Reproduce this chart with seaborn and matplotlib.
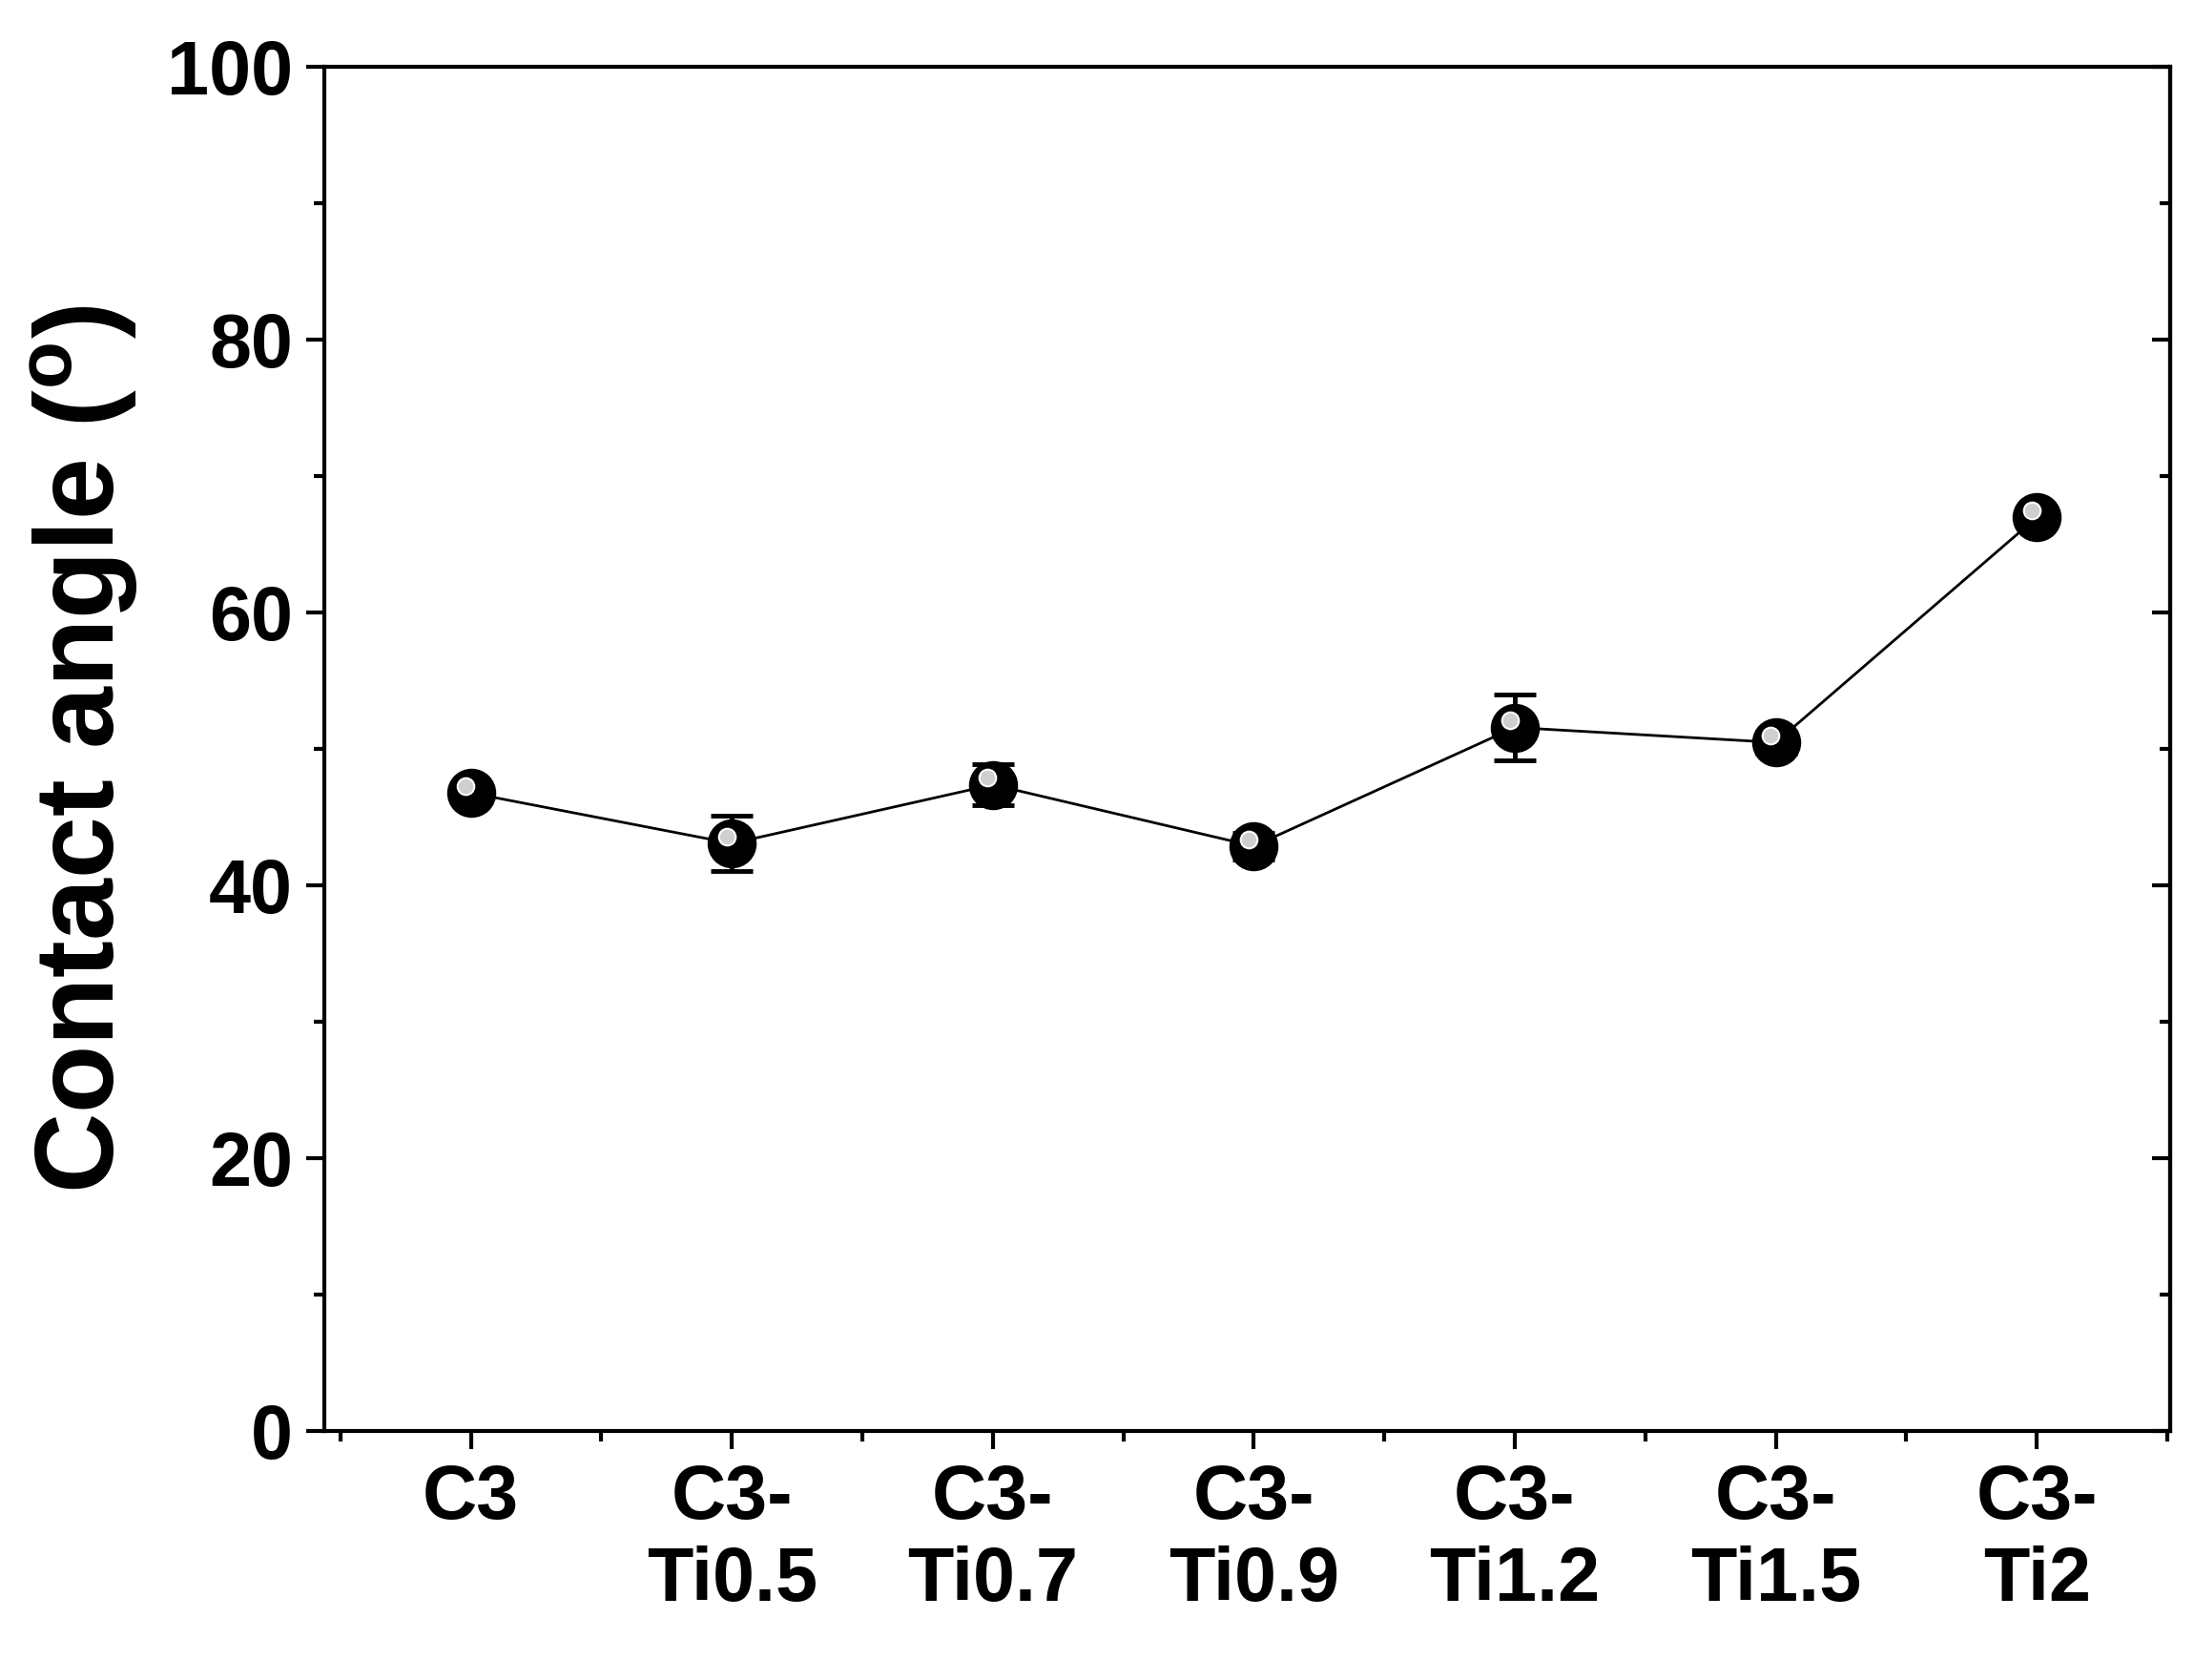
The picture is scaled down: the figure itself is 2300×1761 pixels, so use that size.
import matplotlib
matplotlib.use("Agg")
import matplotlib.pyplot as plt
import seaborn as sns
import numpy as np
from matplotlib.ticker import MultipleLocator

categories = ["C3", "C3-\nTi0.5", "C3-\nTi0.7", "C3-\nTi0.9", "C3-\nTi1.2", "C3-\nTi1.5", "C3-\nTi2"]
values = [46.8, 43.1, 47.4, 42.9, 51.6, 50.5, 67.0]
errors = [0.5, 2.0, 1.5, 1.0, 2.4, 0.8, 0.7]

sns.set_theme(style="ticks")
plt.rcParams['font.family'] = ['Liberation Sans', 'DejaVu Sans']
plt.rcParams['font.weight'] = 'bold'
plt.rcParams['mathtext.default'] = 'bf'
for k in ['text.color', 'axes.labelcolor', 'xtick.color', 'ytick.color', 'axes.edgecolor']:
    plt.rcParams[k] = 'black'

fig = plt.figure(figsize=(23, 17.61), dpi=100)
ax = fig.add_axes([0.148, 0.148, 0.841, 0.812])
x = np.arange(len(categories))
ax.errorbar(x, values, yerr=errors, fmt='none', ecolor='black', elinewidth=3.5, capsize=16, capthick=3.5, zorder=2)
sns.lineplot(x=x, y=values, ax=ax, color='black', linewidth=2, zorder=3)
ax.scatter(x, values, s=1300, color='black', zorder=4)
ax.scatter(x - 0.02, np.array(values) + 0.5, s=160, color='#cfcfcf', edgecolors='white', linewidths=1.5, zorder=5)

ax.set_xlim(-0.56, 6.51)
ax.set_ylim(0, 100)
ax.set_xticks(x)
ax.set_xticklabels(categories)
ax.xaxis.set_minor_locator(MultipleLocator(0.5))
ax.yaxis.set_major_locator(MultipleLocator(20))
ax.yaxis.set_minor_locator(MultipleLocator(10))
ax.tick_params(axis='both', which='major', labelsize=57, width=3, length=14, direction='out', pad=10)
ax.tick_params(axis='both', which='minor', width=3, length=8, direction='out')
for t in ax.get_xticklabels() + ax.get_yticklabels():
    t.set_fontweight('bold')
ax2 = ax.secondary_yaxis('right')
ax2.yaxis.set_major_locator(MultipleLocator(20))
ax2.yaxis.set_minor_locator(MultipleLocator(10))
ax2.tick_params(which='major', direction='in', length=14, width=3, labelright=False)
ax2.tick_params(which='minor', direction='in', length=8, width=3)
ax.tick_params(axis='y', which='both', right=False)
for s in ax.spines.values():
    s.set_linewidth(3)
ax2.spines['right'].set_linewidth(3)
ax.set_ylabel(r'Contact angle ($^{\mathregular{o}}$)', fontsize=84, fontweight='bold', labelpad=20)
fig.savefig("out.png", dpi=100)
